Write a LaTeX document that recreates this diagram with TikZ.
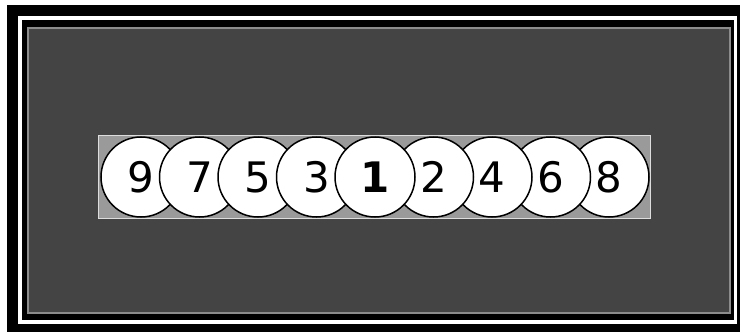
\documentclass[tikz,border=0pt]{standalone}
\usepackage{fontspec}
\setmainfont{DejaVu Sans}
\definecolor{darkbg}{HTML}{444444}
\definecolor{rimgray}{HTML}{8C8C8C}
\definecolor{stripgray}{HTML}{9A9A9A}
\definecolor{striprim}{HTML}{DDDDDD}
\tikzset{
  ball/.style={circle, draw=black, line width=1.5pt, fill=white, minimum size=80pt, inner sep=0pt, font=\fontsize{42}{42}\selectfont},
}
\begin{document}
\begin{tikzpicture}[x=1pt,y=-1pt]
\useasboundingbox (0,0) rectangle (740,332);
\fill[white] (0,0) rectangle (740,332);
\fill[black] (7,5) rectangle (740,332);
\draw[white, line width=3.5pt] (20,18) rectangle (735.5,322);
\draw[rimgray, fill=darkbg, line width=2.5pt] (28,28) rectangle (730,313);
\draw[striprim, fill=stripgray, line width=1.2pt] (98.5,135.5) rectangle (650.5,218.5);
\node[ball] (n9) at (141,177) {9};
\node[ball] (n7) at (199.5,177) {7};
\node[ball] (n5) at (258,177) {5};
\node[ball] (n3) at (316.5,177) {3};
\node[ball] (n8) at (609,177) {8};
\node[ball] (n6) at (550.5,177) {6};
\node[ball] (n4) at (492,177) {4};
\node[ball] (n2) at (433.5,177) {2};
\node[ball, font=\fontsize{42}{42}\selectfont\bfseries] (n1) at (375,177) {1};
\end{tikzpicture}
\end{document}
